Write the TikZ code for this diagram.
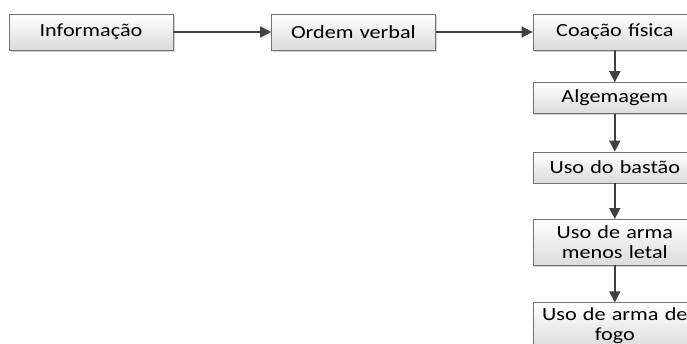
\documentclass[tikz,border=0pt]{standalone}
\usepackage{fontspec}
\setmainfont{Carlito}[FakeStretch=1.2]
\usetikzlibrary{positioning,shadows,arrows.meta}

\begin{document}
\begin{tikzpicture}[x=1pt, y=-1pt, >={Triangle[length=11pt,width=11pt]},
	caixa/.style={draw=gray!90!black, thin, top color=white, bottom color=gray!28,
		minimum width=164pt, minimum height=31pt, inner xsep=2pt, inner ysep=1pt,
		text width=160pt, align=center,
		font=\fontsize{18.5}{19.5}\selectfont,
		drop shadow={shadow xshift=1.5pt, shadow yshift=-1.5pt, opacity=0.35, fill=gray}},
	seta/.style={->, draw=black!75, fill=black!75, line width=1.6pt}]
	% área visível
	\useasboundingbox (0,0) rectangle (687,343);
	
	% 1. linha de cima
	\node[caixa, minimum height=36pt] (info) at (91,32) {Informação};
	\node[caixa, minimum height=36pt, right=98pt of info] (ordem) {Ordem verbal};
	\node[caixa, minimum height=36pt, right=97pt of ordem] (coacao) {Coação física};
	
	% 2. coluna da direita
	\node[caixa, below=32pt of coacao] (algema) {Algemagem};
	\node[caixa, below=38pt of algema] (bastao) {Uso do bastão};
	\node[caixa, minimum height=46pt, below=36pt of bastao] (menos) {Uso de arma\\menos letal};
	\node[caixa, minimum height=46pt, below=37pt of menos] (fogo) {Uso de arma de\\fogo};
	
	% 3. setas
	\draw[seta] (info) -- (ordem);
	\draw[seta] (ordem) -- (coacao);
	\draw[seta] (coacao) -- (algema);
	\draw[seta] (algema) -- (bastao);
	\draw[seta] (bastao) -- (menos);
	\draw[seta] (menos) -- (fogo);
\end{tikzpicture}
\end{document}
